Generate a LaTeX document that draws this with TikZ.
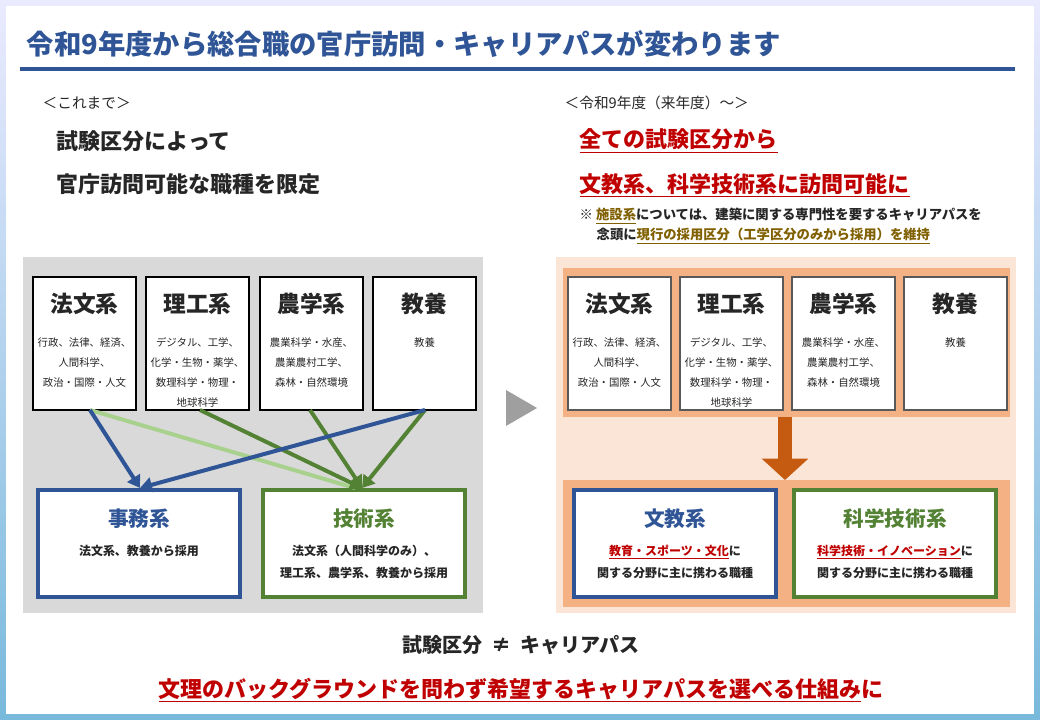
\documentclass[tikz,border=0pt]{standalone}
\usepackage{fontspec}
\setmainfont{Noto Sans CJK JP}
\usetikzlibrary{arrows.meta}
\definecolor{tblue}{HTML}{2F5597}
\definecolor{tgreen}{HTML}{548235}
\definecolor{lgreen}{HTML}{A9D18E}
\definecolor{tred}{HTML}{C00000}
\definecolor{gold}{HTML}{806000}
\definecolor{peach}{HTML}{FBE5D6}
\definecolor{orng}{HTML}{F4B183}
\definecolor{dorng}{HTML}{C55A11}
\definecolor{gray1}{HTML}{D9D9D9}
\definecolor{txt}{HTML}{262626}
\begin{document}
\begin{tikzpicture}[x=0.75pt,y=-0.75pt,
  src/.style={draw=black,fill=white,line width=0.8pt},
  hd/.style={font=\fontsize{17}{18}\selectfont\bfseries,text=txt},
  sub/.style={font=\fontsize{7.8}{15}\selectfont,text=txt,align=center,anchor=north},
  dst/.style={fill=white,line width=3pt},
  arr/.style={line width=3pt,-{Triangle[length=9pt,width=11pt]}},
  pt/.style={font=\fontsize{10.5}{15}\selectfont\bfseries,text=txt,align=center,anchor=north}]
\useasboundingbox (0,0) rectangle (1040,720);
\shade[top color=blue!8!white,bottom color={rgb,255:red,120;green,185;blue,220}] (0,0) rectangle (1040,720);
\fill[white] (6,6) rectangle (1034,714);
% title
\node[anchor=west,text=tblue,font=\fontsize{20.5}{22}\selectfont\bfseries] (title) at (22,44) {令和9年度から総合職の官庁訪問・キャリアパスが変わります};
\draw[tblue,line width=2.5pt] (20,69) -- (1015,69);
% left texts
\node[anchor=west,font=\fontsize{11}{13}\selectfont,text=txt] (lh) at (38,103) {＜これまで＞};
\node[anchor=west,font=\fontsize{16.5}{18}\selectfont\bfseries,text=txt] (l1) at (52,141) {試験区分によって};
\node[anchor=west,font=\fontsize{16.5}{18}\selectfont\bfseries,text=txt] (l2) at (52,184) {官庁訪問可能な職種を限定};
% right texts
\node[anchor=west,font=\fontsize{11}{13}\selectfont,text=txt] (rh) at (560,103) {＜令和9年度（来年度）～＞};
\node[anchor=west,font=\fontsize{16.5}{18}\selectfont\bfseries,text=tred] (r1) at (575,141) {\underline{全ての試験区分から}};
\node[anchor=west,font=\fontsize{16.5}{18}\selectfont\bfseries,text=tred] (r2) at (575,185) {\underline{文教系、科学技術系に訪問可能に}};
\node[anchor=west,font=\fontsize{10}{11}\selectfont\bfseries,text=txt] (n1) at (575,216) {※ \textcolor{gold}{\underline{施設系}}については、建築に関する専門性を要するキャリアパスを};
\node[anchor=west,font=\fontsize{10}{11}\selectfont\bfseries,text=txt] (n2) at (592,236) {念頭に\textcolor{gold}{\underline{現行の採用区分（工学区分のみから採用）を維持}}};
% left panel
\fill[gray1] (23,257) rectangle (483,613);
\foreach \x/\n/\h/\s in {33/a/法文系/{行政、法律、経済、\\人間科学、\\政治・国際・人文},146/b/理工系/{デジタル、工学、\\化学・生物・薬学、\\数理科学・物理・\\地球科学},260/c/農学系/{農業科学・水産、\\農業農村工学、\\森林・自然環境},373/d/教養/{教養}}{
  \draw[src] (\x,277) rectangle ++(103,133);
  \node[hd] (L\n h) at (\x+51.5,304) {\h};
  \node[sub] (L\n s) at (\x+51.5,333) {\s};
}
\coordinate (La) at (90,410); \coordinate (Lb) at (200,410);
\coordinate (Lc) at (310,410); \coordinate (Ld) at (425,410);
\draw[dst,draw=tblue] (38,490) rectangle (240,597);
\draw[dst,draw=tgreen] (263,490) rectangle (465,597);
\coordinate (J) at (140,488); \coordinate (G) at (362,488);
\draw[lgreen,line width=3pt] (La) -- (355,488);
\draw[arr,tblue] (La) -- (J);
\draw[arr,tgreen] (Lb) -- (G);
\draw[arr,tgreen] (Lc) -- (G);
\draw[arr,tgreen] (Ld) -- (G);
\draw[arr,tblue] (Ld) -- (J);
\node[hd,text=tblue,font=\fontsize{15.5}{18}\selectfont\bfseries] (jm) at (139,519) {事務系};
\node[pt,font=\fontsize{9}{15}\selectfont\bfseries] (jms) at (139,540) {法文系、教養から採用};
\node[hd,text=tgreen,font=\fontsize{15.5}{18}\selectfont\bfseries] (gj) at (364,519) {技術系};
\node[pt,font=\fontsize{9}{17}\selectfont\bfseries] (gjs) at (364,540) {法文系（人間科学のみ）、\\理工系、農学系、教養から採用};
% middle triangle
\fill[gray!75] (506,390) -- (537,408) -- (506,426) -- cycle;
% right panel
\fill[peach] (556,257) rectangle (1016,613);
\fill[orng] (563,268) rectangle (1010,417);
\foreach \x/\n/\h/\s in {568/a/法文系/{行政、法律、経済、\\人間科学、\\政治・国際・人文},680/b/理工系/{デジタル、工学、\\化学・生物・薬学、\\数理科学・物理・\\地球科学},792/c/農学系/{農業科学・水産、\\農業農村工学、\\森林・自然環境},904/d/教養/{教養}}{
  \draw[src,draw=gray!70!black] (\x,277) rectangle ++(103,133);
  \node[hd] (R\n h) at (\x+51.5,304) {\h};
  \node[sub] (R\n s) at (\x+51.5,333) {\s};
}
\coordinate (Ra) at (785,417); \coordinate (Rb) at (785,480);
\draw[dorng,line width=10pt,-{Triangle[length=16pt,width=34pt]}] (Ra) -- (Rb);
\fill[orng] (563,480) rectangle (1010,607);
\draw[dst,draw=tblue] (574,490) rectangle (776,597);
\draw[dst,draw=tgreen] (794,490) rectangle (996,597);
\node[hd,text=tblue,font=\fontsize{15.5}{18}\selectfont\bfseries] (bk) at (675,519) {文教系};
\node[pt,font=\fontsize{9}{17}\selectfont\bfseries] (bks) at (675,540) {\textcolor{tred}{\underline{教育・スポーツ・文化}}に\\関する分野に主に携わる職種};
\node[hd,text=tgreen,font=\fontsize{15.5}{18}\selectfont\bfseries] (kg) at (895,519) {科学技術系};
\node[pt,font=\fontsize{9}{17}\selectfont\bfseries] (kgs) at (895,540) {\textcolor{tred}{\underline{科学技術・イノベーション}}に\\関する分野に主に携わる職種};
% bottom
\node[font=\fontsize{15}{18}\selectfont\bfseries,text=txt] (ne) at (521,645) {試験区分\ \ ≠\ \ キャリアパス};
\node[font=\fontsize{16.5}{18}\selectfont\bfseries,text=tred] (fin) at (521,690) {\underline{文理のバックグラウンドを問わず希望するキャリアパスを選べる仕組み}に};
\end{tikzpicture}
\end{document}
